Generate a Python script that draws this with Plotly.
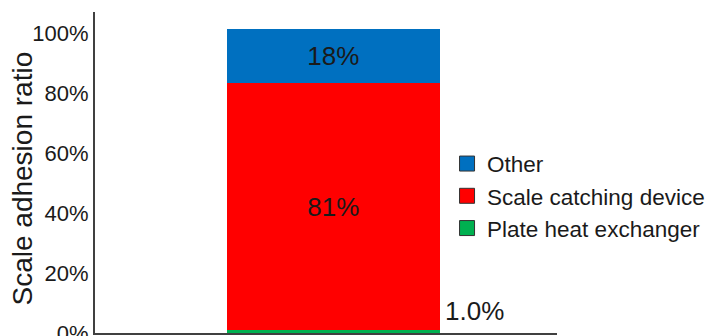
import plotly.graph_objects as go

categories = ["Sample"]
series_names = ["Plate heat exchanger", "Scale catching device", "Other"]
series_values = [[0.010], [0.823], [0.180]]
series_labels = ["1.0%", "81%", "18%"]
series_colors = ["#00B050", "#FF0000", "#0070C0"]
y_tick_values = [0, 0.2, 0.4, 0.6, 0.8, 1.0]
y_tick_labels = ["0%", "20%", "40%", "60%", "80%", "100%"]
y_title = "Scale adhesion ratio"

FONT = "Liberation Sans, Arial, sans-serif"

fig = go.Figure()
for i, (name, vals, lab, col) in enumerate(zip(series_names, series_values, series_labels, series_colors)):
    inside = i != 0
    fig.add_trace(go.Bar(
        x=[0], y=vals, name=name, width=1.0,
        marker=dict(color=col, line=dict(width=0)),
        text=[lab] if inside else None,
        textposition="inside" if inside else "none",
        insidetextanchor="middle",
        textfont=dict(size=26, color="#1a1a1a", family=FONT),
        hoverinfo="skip", showlegend=False,
    ))

# legend entries with square swatches
for name, col in zip(series_names, series_colors):
    fig.add_trace(go.Scatter(
        x=[None], y=[None], name=name, mode="markers",
        marker=dict(symbol="square", size=15, color=col,
                    line=dict(color="#333333", width=1)),
        hoverinfo="skip",
    ))

# outside label for the tiny bottom segment
fig.add_annotation(
    x=0.5, y=series_values[0][0], xref="x", yref="y",
    text=series_labels[0], showarrow=False,
    xanchor="left", yanchor="bottom", xshift=3, yshift=2,
    font=dict(size=26, color="#1a1a1a", family=FONT),
)

# y-axis title
fig.add_annotation(
    x=0, y=0.5, xref="paper", yref="paper",
    text=y_title, showarrow=False, textangle=-90,
    xanchor="center", yanchor="middle", xshift=-73, yshift=-6,
    font=dict(size=28, color="#1a1a1a", family=FONT),
)

fig.update_layout(
    barmode="stack",
    width=723, height=336,
    margin=dict(l=95, r=166, t=12, b=3),
    paper_bgcolor="white", plot_bgcolor="white",
    font=dict(family=FONT, color="#1a1a1a"),
    showlegend=True,
    legend=dict(
        x=0.762, y=0.427, xanchor="left", yanchor="middle",
        traceorder="reversed", itemsizing="trace",
        font=dict(size=22.5, color="#1a1a1a", family=FONT),
        bgcolor="rgba(0,0,0,0)", itemclick=False,
        tracegroupgap=0,
    ),
    xaxis=dict(
        range=[-1.119, 1.05], showticklabels=False, ticks="",
        showgrid=False, zeroline=False,
        showline=True, linecolor="#404040", linewidth=2,
    ),
    yaxis=dict(
        range=[0, 1.07], tickvals=y_tick_values, ticktext=y_tick_labels,
        ticks="", showgrid=False, zeroline=False,
        showline=True, linecolor="#404040", linewidth=2,
        ticklabeloverflow="allow",
        tickfont=dict(size=22, color="#1a1a1a", family=FONT),
        automargin=False,
    ),
)

fig.write_html("out.html")
